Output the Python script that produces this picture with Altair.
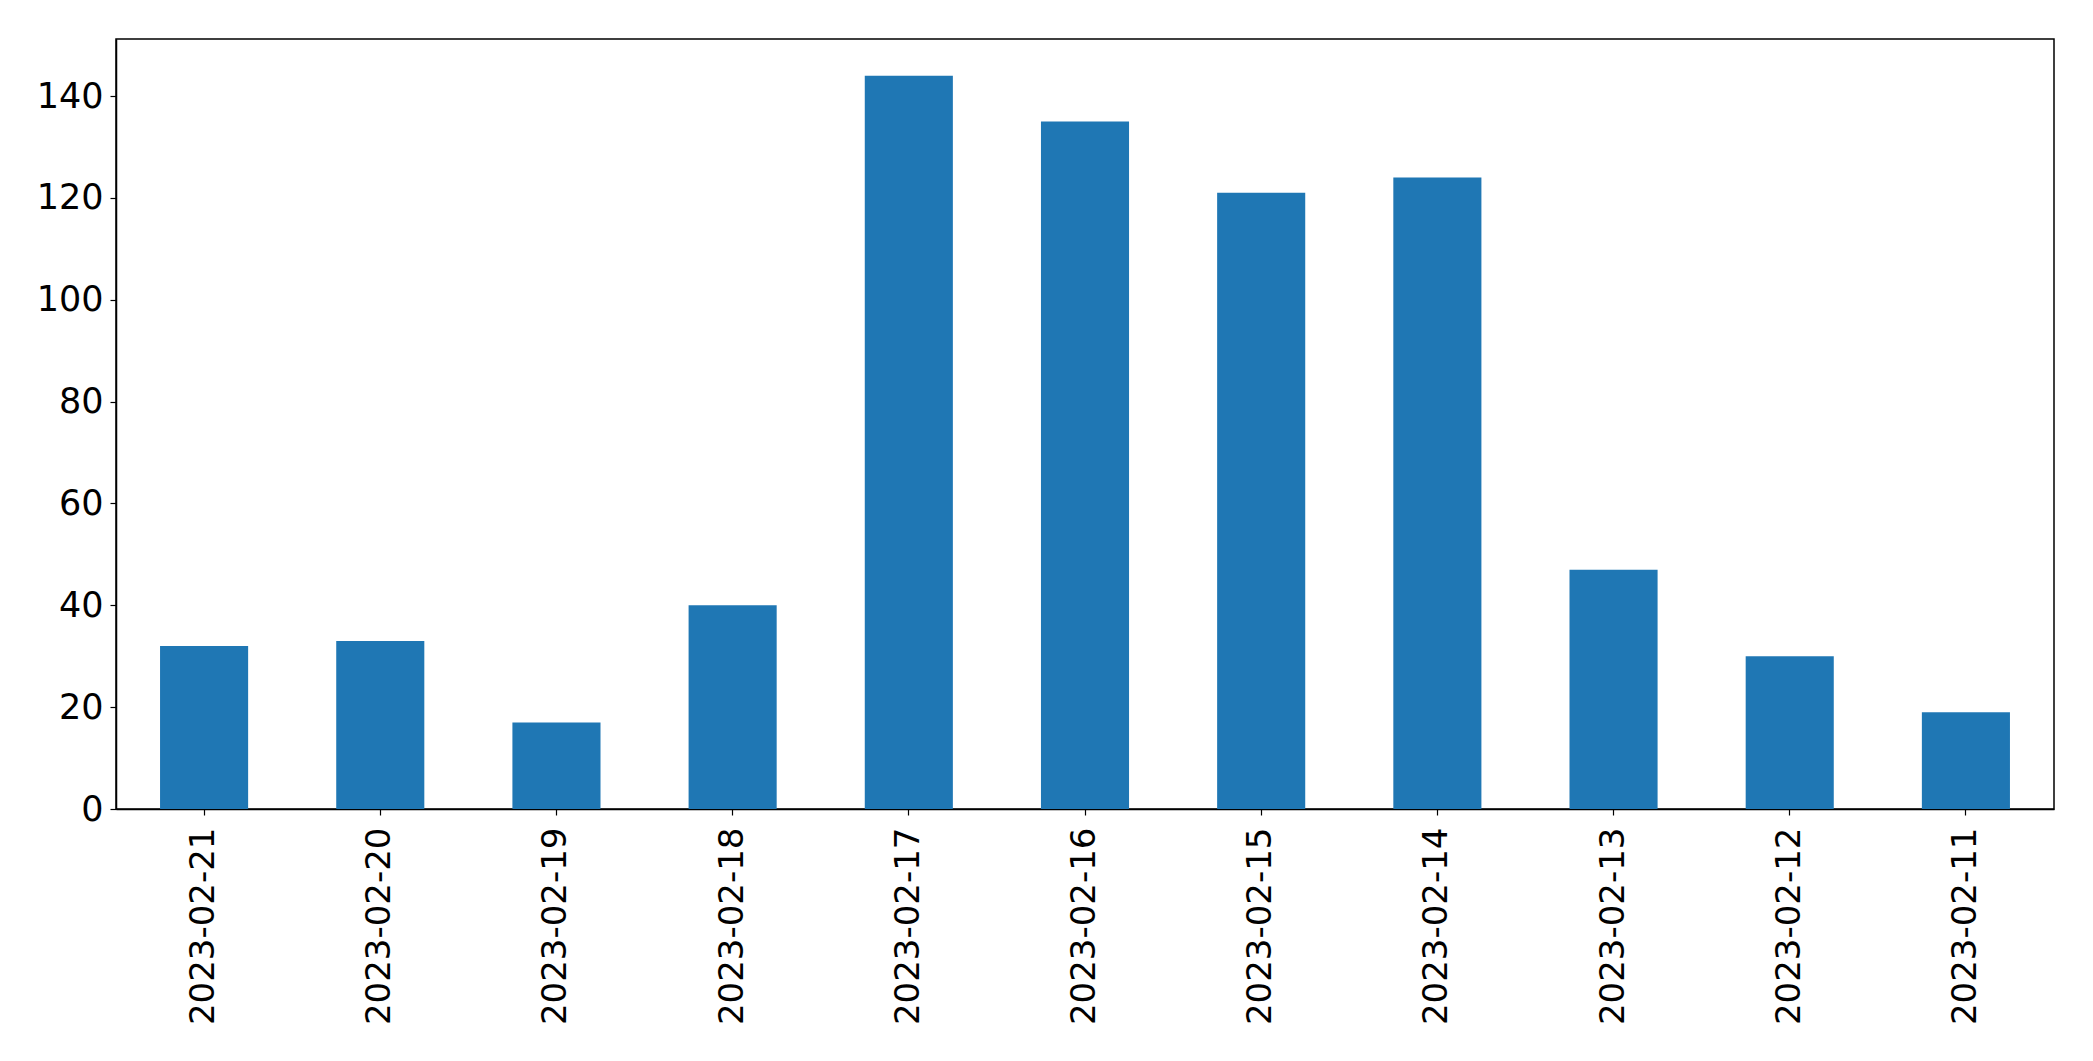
import altair as alt
import pandas as pd

dates = ["2023-02-21", "2023-02-20", "2023-02-19", "2023-02-18", "2023-02-17",
         "2023-02-16", "2023-02-15", "2023-02-14", "2023-02-13", "2023-02-12", "2023-02-11"]
counts = [32, 33, 17, 40, 144, 135, 121, 124, 47, 30, 19]
y_ticks = [0, 20, 40, 60, 80, 100, 120, 140]

df = pd.DataFrame({"date": dates, "count": counts})

chart = alt.Chart(df).mark_bar(color="#1f77b4").encode(
    x=alt.X("date:N", sort=dates,
            scale=alt.Scale(paddingInner=0.5, paddingOuter=0.25),
            axis=alt.Axis(title=None, labelAngle=-90, labelAlign="right",
                          labelBaseline="middle", labelFontSize=34, labelLimit=0,
                          labelFont="DejaVu Sans", labelColor="black",
                          tickColor="black", tickSize=6, tickWidth=1.2,
                          domainColor="black", domainWidth=1.5,
                          labelPadding=12)),
    y=alt.Y("count:Q", scale=alt.Scale(domain=[0, 151.2], nice=False, zero=True),
            axis=alt.Axis(title=None, values=y_ticks, grid=False, labelFontSize=35,
                          labelFont="DejaVu Sans", labelColor="black",
                          tickColor="black", tickSize=6, tickWidth=1.2,
                          domainColor="black", domainWidth=1.5,
                          labelPadding=7)),
).properties(
    width=1938, height=770,
    autosize=alt.AutoSizeParams(type="none"),
    padding={"left": 108, "top": 31, "right": 30, "bottom": 240},
    background="white",
).configure_view(stroke="black", strokeWidth=1.5)

chart.save("out.html", embed_options={"renderer": "svg", "actions": False})
